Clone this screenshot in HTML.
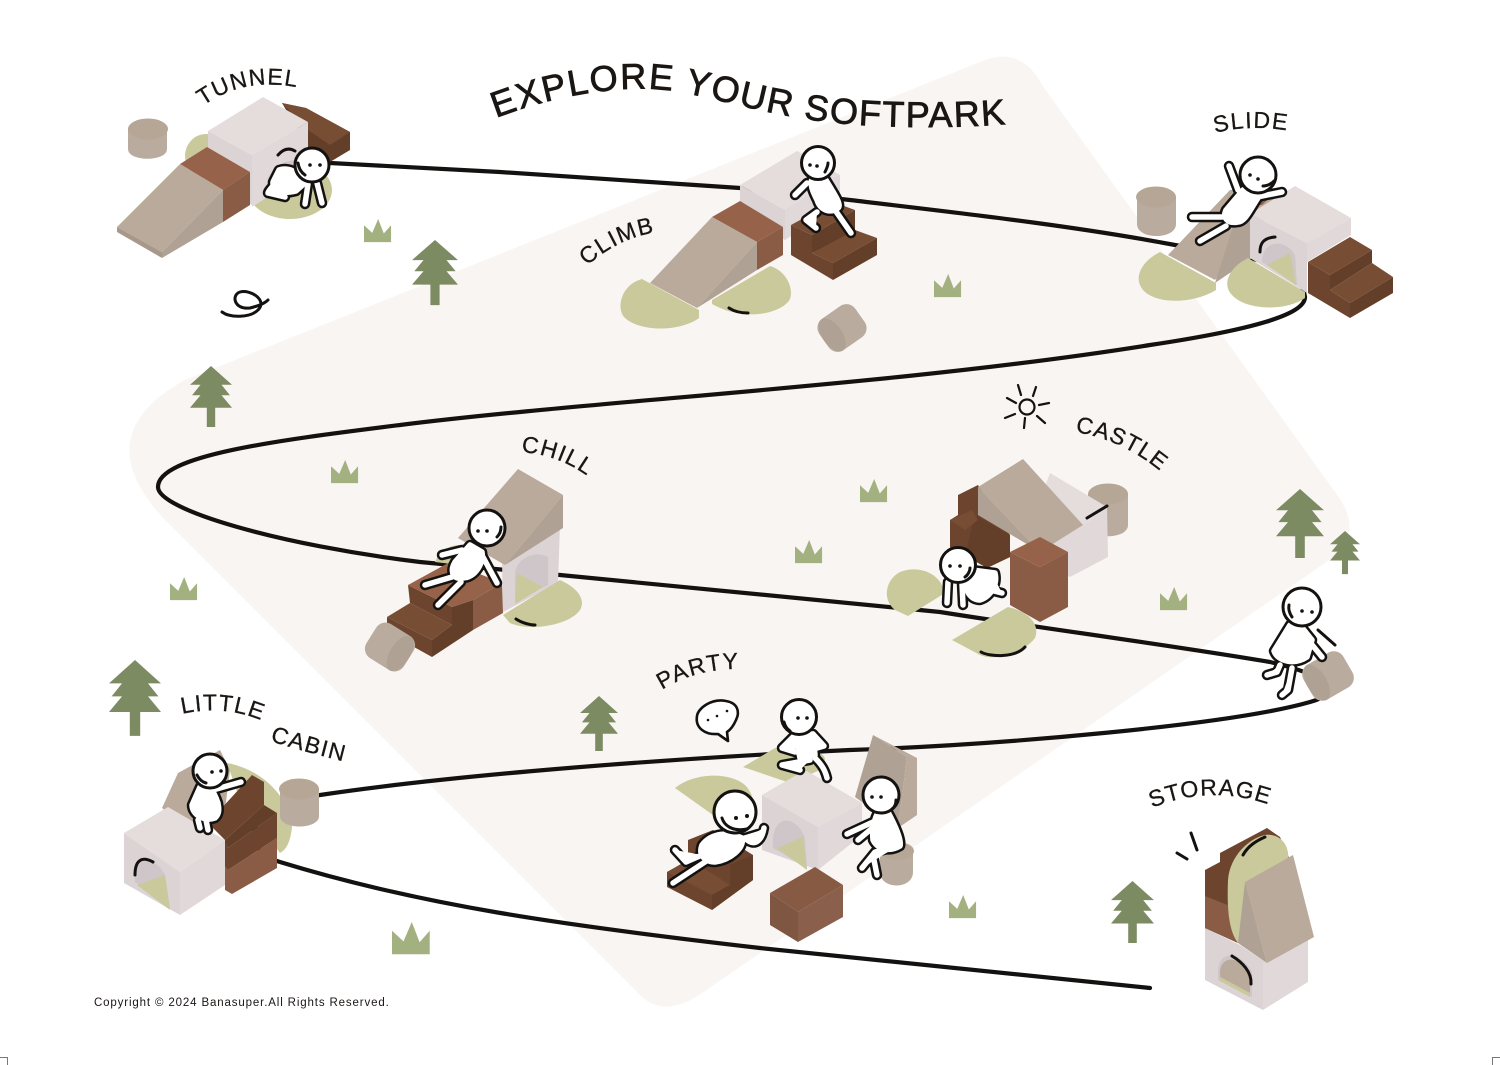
<!DOCTYPE html>
<html lang="en"><head><meta charset="utf-8"><title>Explore Your Softpark</title>
<style>html,body{margin:0;padding:0;background:#fff}svg{display:block}
text{font-family:"Liberation Sans",sans-serif;fill:#1a1614;stroke:#1a1614;stroke-width:.3}
.l{font-size:23px;letter-spacing:1.4px}
.s{fill:none;stroke:#141210;stroke-width:3;stroke-linecap:round;stroke-linejoin:round}
.th{stroke-width:2.2}
.h{fill:#fff;stroke:#141210;stroke-width:3}
.tp{fill:#b9aa9b}.ts{fill:#afa194}.cy{fill:#b9ac9e}.ct{fill:#b5a696}
.wt{fill:#e5dcdc}.wl{fill:#dcd3d5}.wr{fill:#e1d8d9}.ar{fill:#cfc6c9}
.mt{fill:#96634a}.mr{fill:#8a5c46}
.dt{fill:#774d34}.dl{fill:#6d452e}.dr{fill:#633e28}
.ol{fill:#c9c99c}
.tree{fill:#7d8b63}.gr{fill:#a3b07f}
</style></head><body>
<svg width="1500" height="1065" viewBox="0 0 1500 1065" xmlns="http://www.w3.org/2000/svg">
<defs>
<polygon id="tree" points="50,0 100,45 75,45 95,70 75,70 100,100 60,100 60,146 40,146 40,100 0,100 25,70 5,70 25,45 0,45"/>
<polygon id="grass" points="0,19 25,42 43,0 60,44 82,19 82,70 0,70"/>
<path id="t0" d="M496,118 C555,95 620,85 665,90 C710,96 750,110 800,118 C850,127 930,130 1008,124"/>
<path id="t1" d="M203,106 Q245,76 300,88"/>
<path id="t2" d="M587,266 Q618,238 658,232"/>
<path id="t3" d="M1215,133 Q1250,124 1290,131"/>
<path id="t4" d="M521,452 Q560,455 590,478"/>
<path id="t5" d="M1075,432 Q1125,440 1166,476"/>
<path id="t6" d="M662,690 Q697,668 742,669"/>
<path id="t7" d="M182,714 Q225,704 265,722"/>
<path id="t8" d="M270,741 Q305,752 350,763"/>
<path id="t9" d="M1152,808 Q1210,784 1270,805"/>

<g id="f1"><path d="M279,170 C290,166 302,175 306,182 L296,191 C285,194 272,192 273,182Z"/><path d="M275,184 C269,190 268,192 268,193 L285,197"/><path d="M308,184 L305,204"/><path d="M317,183 L322,203"/></g>
<g id="f2"><path d="M812,178 L826,180 C835,195 842,205 838,208 C830,214 820,210 817,200 C812,190 810,185 812,178Z"/><path d="M807,183 L795,195"/><path d="M817,212 L806,220 L816,228"/><path d="M835,210 L851,233"/></g>
<g id="f3"><path d="M1243,190 L1258,198 C1250,210 1245,222 1238,222 C1228,224 1222,218 1226,210Z"/><path d="M1238,190 L1229,166"/><path d="M1252,198 L1282,192"/><path d="M1222,217 L1192,217"/><path d="M1226,226 L1200,241"/></g>
<g id="f4"><path d="M470,545 L482,552 C484,562 476,578 462,578 C452,580 450,570 455,562Z"/><path d="M462,550 L442,555"/><path d="M483,557 L497,583"/><path d="M452,577 L425,585"/><path d="M461,582 L438,605"/></g>
<g id="f5"><path d="M972,570 L995,573 C998,585 990,597 980,600 C970,600 965,590 965,580Z"/><path d="M948,582 L947,603"/><path d="M962,584 L963,605"/><path d="M994,578 L990,590 L1002,593"/></g>
<g id="f6"><path d="M200,787 L212,790 C218,800 222,812 215,818 C205,822 192,815 192,805Z"/><path d="M213,790 L241,782"/><path d="M205,797 L218,803"/><path d="M198,820 L200,828"/><path d="M206,820 L208,830"/></g>
<g id="f7"><path d="M795,735 L813,734 L815,755 L800,758Z"/><path d="M795,735 L782,748 L795,752"/><path d="M813,734 L824,746 L810,750"/><path d="M810,760 L782,765 L800,770"/><path d="M815,758 C822,765 825,770 827,778"/></g>
<g id="f8"><path d="M702,845 C712,832 730,832 742,838 C745,848 730,860 715,862 C705,862 698,855 702,845Z"/><path d="M745,838 C755,848 762,840 764,828"/><path d="M745,838 L758,834"/><path d="M702,855 L686,862 L675,850"/><path d="M708,860 L673,883"/></g>
<g id="f9"><path d="M878,812 L888,812 C895,825 902,840 900,846 C890,852 878,850 873,840 C872,830 874,820 878,812Z"/><path d="M873,822 L847,834"/><path d="M876,825 L858,840"/><path d="M896,847 L875,852 L862,868"/><path d="M873,855 L877,875"/></g>
<g id="f10"><path d="M1290,625 L1274,651 C1278,662 1295,665 1307,657 L1312,640 L1300,625Z"/><path d="M1304,635 L1322,657"/><path d="M1280,665 L1277,672 L1267,675"/><path d="M1292,668 L1288,690 L1282,695"/></g>
</defs>

<rect width="1500" height="1065" fill="#fff"/>
<path fill="#f9f5f2" d="M185,380 L985,60 Q1022,47 1042,85 L1338,496 Q1366,536 1325,563 L705,991 Q665,1020 640,995 L165,520 Q85,435 185,380Z"/>

<!-- road -->
<path fill="none" stroke="#141210" stroke-width="4.2" stroke-linecap="round" d="M330,163 L500,172 L740,188 L850,200 C950,212 1070,225 1175,245 C1240,255 1300,262 1305,297 C1305,315 1250,330 1150,345 C900,385 600,400 400,425 C280,440 158,455 158,487 C158,510 280,545 420,562 L560,575 L940,612 C1040,628 1170,645 1270,662 C1345,680 1335,695 1310,702 C1230,725 1000,745 850,750 C600,762 420,780 320,795 C240,805 240,850 280,862 C420,905 560,925 760,948 L1150,988"/>

<!-- trees & grass -->
<g class="tree">
<use href="#tree" transform="translate(412,240) scale(.46,.446)"/>
<use href="#tree" transform="translate(190,366) scale(.42,.418)"/>
<use href="#tree" transform="translate(1276,489) scale(.48,.473)"/>
<use href="#tree" transform="translate(1330,531) scale(.30,.295)"/>
<use href="#tree" transform="translate(109,660) scale(.52,.52)"/>
<use href="#tree" transform="translate(580,696) scale(.38,.377)"/>
<use href="#tree" transform="translate(1111,881) scale(.43,.425)"/>
</g>
<g class="gr">
<use href="#grass" transform="translate(364,219) scale(.33)"/>
<use href="#grass" transform="translate(934,274) scale(.33)"/>
<use href="#grass" transform="translate(331,460) scale(.33)"/>
<use href="#grass" transform="translate(860,479) scale(.33)"/>
<use href="#grass" transform="translate(795,540) scale(.33)"/>
<use href="#grass" transform="translate(170,577) scale(.33)"/>
<use href="#grass" transform="translate(1160,587) scale(.33)"/>
<use href="#grass" transform="translate(949,895) scale(.33)"/>
<use href="#grass" transform="translate(392,922) scale(.46)"/>
</g>

<!-- TUNNEL -->
<path class="cy" d="M128,128 V149 C128,162 167,162 167,149 V128Z"/><ellipse cx="148" cy="129" rx="20" ry="10.5" class="ct"/>
<ellipse cx="206" cy="156" rx="21" ry="22" class="ol"/>
<ellipse cx="290" cy="190" rx="42" ry="29" class="ol"/>
<polygon class="dr" points="282,103 306,108 350,132 350,150 330,162 308,147"/>
<polygon class="dt" points="282,103 306,108 350,132 330,145 308,130"/>
<polygon class="wl" points="208,131 252,155 252,205 208,180"/>
<polygon class="wr" points="308,122 252,155 252,207 266,198 268,180 280,165 298,160 308,150"/>
<polygon class="wt" points="263,97 308,122 252,155 208,131"/>
<path class="ar" d="M268,178 C275,165 285,160 298,160 L290,172 L270,184Z"/>
<polygon class="mt" points="207,147 250,172 223,190 180,164"/>
<polygon class="mr" points="250,172 223,190 223,222 250,205"/>
<polygon class="tp" points="180,164 223,190 162,252 117,227"/>
<polygon class="ts" points="223,190 223,222 162,258 162,252"/>
<polygon fill="#a6988a" points="117,227 162,252 162,258 117,232"/>

<!-- CLIMB -->
<polygon class="wr" points="797,151 840,175 840,205 785,240 785,210"/>
<polygon class="wl" points="740,185 785,210 785,240 740,210"/>
<polygon class="wt" points="797,151 840,175 785,210 740,185"/>
<polygon class="dl" points="791,225 812,235 812,253 833,263 833,280 791,255"/>
<polygon class="dt" points="791,225 833,202 855,210 812,235"/>
<polygon class="dr" points="812,235 855,210 855,232 812,253"/>
<polygon class="dt" points="812,253 855,230 877,238 833,263"/>
<polygon class="dr" points="833,263 877,238 877,255 833,280"/>
<polygon class="mt" points="740,201 783,227 757,242 712,217"/>
<polygon class="mr" points="783,227 757,242 757,270 783,255"/>
<polygon class="tp" points="712,217 757,242 697,308 650,283"/>
<polygon class="ts" points="757,242 757,270 697,308"/>
<path class="ol" d="M642,279 C620,285 616,310 625,318 C640,332 680,332 699,318 L699,310Z"/>
<path class="ol" d="M712,300 L770,266 C790,272 795,295 788,302 C775,316 740,320 712,304Z"/>
<path class="s" d="M729,308 C735,312 742,313 748,313"/>
<g transform="translate(842,328) rotate(-35)"><rect x="-22" y="-19" width="44" height="38" rx="11" class="cy"/><ellipse cx="-12" cy="0" rx="10" ry="19" class="ts"/></g>

<!-- SLIDE -->
<path class="cy" d="M1137,197 V224 C1137,240 1176,240 1176,224 V197Z"/><ellipse cx="1156" cy="197" rx="20" ry="10.5" class="ct"/>
<polygon class="tp" points="1230,190 1280,188 1265,220 1215,280 1168,255"/>
<polygon class="ts" points="1215,283 1252,258 1252,212 1240,205"/>
<polygon class="mt" points="1255,190 1280,188 1262,205 1245,205"/>
<path class="ol" d="M1160,252 C1140,262 1132,280 1145,292 C1160,305 1195,303 1216,290 L1216,283Z"/>
<polygon class="wr" points="1351,218 1351,235 1307,262 1307,243"/>
<polygon class="wl" points="1250,214 1307,243 1307,293 1250,258"/>
<polygon class="wt" points="1295,186 1351,218 1307,243 1250,214"/>
<path class="ar" d="M1262,262 C1262,240 1285,238 1295,255 L1297,285Z"/>
<polygon class="ol" points="1267,265 1290,253 1296,285"/>
<path class="ol" d="M1248,258 C1228,268 1222,285 1232,295 C1245,310 1285,312 1305,298 L1305,292Z"/>
<path class="s" d="M1260,252 C1260,245 1262,238 1275,237"/>
<polygon class="dl" points="1308,262 1330,275 1330,290 1350,303 1350,318 1308,293"/>
<polygon class="dt" points="1308,262 1350,237 1372,250 1330,275"/>
<polygon class="dr" points="1330,275 1372,250 1372,263 1330,290"/>
<polygon class="dt" points="1330,290 1372,263 1393,277 1350,303"/>
<polygon class="dr" points="1350,303 1393,277 1393,293 1350,318"/>

<!-- CHILL -->
<path class="ol" d="M435,562 C440,550 450,545 460,545 L460,565Z"/>
<polygon class="wl" points="502,560 560,525 558,583 503,612"/>
<path class="ar" d="M515,600 V575 C515,558 535,550 548,557 V585Z"/>
<polygon class="ol" points="517,573 543,587 515,604"/>
<polygon class="tp" points="518,469 563,495 505,565 458,538"/>
<polygon class="ts" points="563,495 563,528 505,565"/>
<polygon class="dr" points="432,640 452,625 452,607 473,600 473,630 432,657"/>
<polygon class="dl" points="387,617 432,640 432,657 387,632"/>
<polygon class="dt" points="387,617 410,603 452,625 432,640"/>
<polygon class="dl" points="408,585 452,607 452,625 410,603"/>
<polygon class="mt" points="408,585 450,562 502,583 473,600 452,607"/>
<polygon class="mr" points="473,600 502,583 503,613 473,630"/>
<path class="ol" d="M503,615 L560,580 C578,588 586,600 580,610 C570,625 530,632 510,623Z"/>
<path class="s" d="M516,619 C522,623 530,625 535,625"/>
<g transform="translate(390,647) rotate(32)"><rect x="-22" y="-20" width="44" height="40" rx="11" class="cy"/><ellipse cx="12" cy="0" rx="10" ry="20" class="ts"/></g>

<!-- CASTLE -->
<path class="cy" d="M1088,493 V525 C1088,540 1128,540 1128,525 V493Z"/><ellipse cx="1108" cy="494" rx="20" ry="10.5" class="ct"/>
<polygon class="wr" points="1107,507 1108,557 1070,577 1040,560 1080,510"/>
<polygon class="wt" points="1050,473 1107,507 1085,525 1040,500"/>
<path class="s" d="M1087,518 L1107,506"/>
<polygon class="dl" points="958,495 978,485 1010,535 1010,557 987,568 950,547 950,520 958,515"/>
<polygon class="dr" points="975,515 1010,535 1010,557 987,568 965,555"/>
<polygon class="dt" points="950,520 972,510 978,520 965,530"/>
<polygon class="tp" points="1023,459 1083,525 1040,552 978,487"/>
<polygon class="ts" points="978,487 1040,552 978,515"/>
<polygon class="mt" points="1010,552 1040,537 1068,552 1040,567"/>
<polygon class="mr" points="1010,552 1040,567 1040,622 1010,605"/>
<polygon class="mr" points="1068,552 1040,567 1040,622 1068,607"/>
<path class="ol" d="M908,616 L945,593 C940,572 918,565 900,572 C885,580 882,600 895,610Z"/>
<path class="ol" d="M952,640 L1008,607 C1030,612 1040,625 1035,638 C1025,652 995,662 980,655Z"/>
<path class="s" d="M981,652 C990,657 1015,658 1025,647"/>

<!-- LITTLE CABIN -->
<path class="ol" d="M227,763 C265,770 290,800 292,827 C290,845 285,850 280,853 L240,800Z"/>
<polygon class="tp" points="162,808 178,773 220,750 230,770 225,810 190,830"/>
<path class="cy" d="M280,788 V816 C280,830 319,830 319,816 V788Z"/><ellipse cx="299" cy="789" rx="20" ry="10.5" class="ct"/>
<polygon class="dl" points="208,823 252,775 264,782 264,805 225,840"/>
<polygon class="dr" points="225,840 264,805 277,813 228,848"/>
<polygon class="dl" points="225,838 228,848 277,813 277,838 228,870 225,868"/>
<polygon class="mr" points="225,866 228,870 277,838 277,868 232,894 225,890"/>
<polygon class="wr" points="225,840 225,885 180,915 180,872"/>
<polygon class="wl" points="124,833 180,872 180,915 124,883"/>
<polygon class="wt" points="168,807 225,840 180,872 124,833"/>
<path class="ar" d="M135,882 C133,855 155,855 165,875 L170,908Z"/>
<polygon class="ol" points="137,885 165,875 170,910"/>
<path class="s" d="M135,875 C135,860 142,856 153,862"/>

<!-- PARTY -->
<polygon class="ts" points="873,735 907,757 898,828 855,797"/>
<polygon class="tp" points="873,735 917,758 917,815 898,828 907,757"/>
<path class="cy" d="M880,850 V872 C880,890 913,890 913,872 V850Z"/><ellipse cx="897" cy="851" rx="17" ry="9" class="ct"/>
<path class="ol" d="M743,767 L775,748 C800,745 825,750 825,760 L820,770 L790,783Z"/>
<path class="ol" d="M675,788 C695,772 730,772 745,785 C752,792 753,800 753,802 L720,820Z"/>
<polygon class="wr" points="862,803 862,835 818,870 818,827"/>
<polygon class="wl" points="762,795 818,827 818,870 762,850"/>
<polygon class="wt" points="805,770 862,803 818,827 762,795"/>
<path class="ar" d="M773,848 C770,815 795,812 805,838 L807,868Z"/>
<polygon class="ol" points="777,848 803,837 807,870"/>
<polygon class="dl" points="667,872 688,860 688,840 713,830 753,855 753,880 712,910 667,887"/>
<polygon class="dt" points="667,872 690,860 730,885 712,895"/>
<polygon class="dr" points="712,895 730,885 730,865 753,855 753,880 712,910"/>
<polygon fill="#875a44" points="815,867 843,885 798,912 770,893"/>
<polygon fill="#7e5642" points="770,893 798,912 798,942 770,925"/>
<polygon fill="#8a604c" points="843,885 843,917 798,942 798,912"/>

<!-- ROCK -->
<g transform="translate(1328,676) rotate(-30)"><rect x="-23" y="-20" width="46" height="40" rx="11" class="cy"/><ellipse cx="-13" cy="0" rx="10" ry="20" class="ts"/></g>

<!-- STORAGE -->
<polygon class="wl" points="1205,928 1240,945 1267,963 1263,1010 1205,980"/>
<polygon class="wr" points="1263,963 1308,938 1308,982 1263,1010"/>
<path class="ar" d="M1218,972 C1218,950 1240,950 1252,972 L1252,997 L1218,980Z"/>
<path class="tp" d="M1220,972 C1221,955 1240,955 1250,975 L1250,993 L1220,977Z"/>
<polygon class="ol" points="1220,977 1250,993 1250,997 1220,981"/>
<path class="s" d="M1232,956 C1242,962 1252,972 1251,984"/>
<polygon class="dl" points="1205,870 1220,862 1220,853 1267,828 1280,837 1290,860 1238,943 1205,928"/>
<polygon class="mr" points="1205,896 1230,906 1238,943 1205,928"/>
<path class="ol" d="M1238,943 C1228,930 1227,905 1228,880 C1230,855 1250,838 1265,835 C1280,833 1290,845 1288,860 L1285,900Z"/>
<polygon class="ts" points="1245,882 1238,943 1267,963"/>
<polygon class="tp" points="1245,882 1293,855 1314,937 1267,963"/>
<path class="s" d="M1243,855 C1248,846 1256,841 1265,837"/>
<path class="s" d="M1177,853 L1187,859 M1191,833 L1197,850"/>

<!-- figures -->
<g fill="#fff" stroke-linecap="round" stroke-linejoin="round">
<g stroke="#141210" stroke-width="10.5">
<use href="#f1"/><use href="#f2"/><use href="#f3"/><use href="#f4"/><use href="#f5"/><use href="#f6"/><use href="#f7"/><use href="#f8"/><use href="#f9"/><use href="#f10"/>
</g>
<g stroke="#fff" stroke-width="5.5">
<use href="#f1"/><use href="#f2"/><use href="#f3"/><use href="#f4"/><use href="#f5"/><use href="#f6"/><use href="#f7"/><use href="#f8"/><use href="#f9"/><use href="#f10"/>
</g>
</g>
<g class="h">
<circle cx="312" cy="165" r="17"/><circle cx="818" cy="163" r="16.5"/><circle cx="1258" cy="175" r="18"/><circle cx="487" cy="528" r="18"/><circle cx="958" cy="565" r="17.5"/><circle cx="210" cy="771" r="17"/><circle cx="799" cy="717" r="17.5"/><circle cx="735" cy="812" r="21"/><circle cx="881" cy="795" r="18"/><circle cx="1302" cy="607" r="19"/>
</g>
<g fill="#141210">
<circle cx="310" cy="165" r="1.8"/><circle cx="320" cy="165" r="1.8"/>
<circle cx="810" cy="165" r="1.8"/><circle cx="817" cy="166" r="1.8"/>
<circle cx="1250" cy="175" r="1.8"/><circle cx="1258" cy="179" r="1.8"/>
<circle cx="478" cy="531" r="1.8"/><circle cx="487" cy="531" r="1.8"/>
<circle cx="950" cy="566" r="1.8"/><circle cx="960" cy="566" r="1.8"/>
<circle cx="212" cy="772" r="1.8"/><circle cx="221" cy="771" r="1.8"/>
<circle cx="798" cy="718" r="1.8"/><circle cx="807" cy="718" r="1.8"/>
<circle cx="736" cy="818" r="2"/><circle cx="747" cy="816" r="2"/>
<circle cx="872" cy="797" r="1.8"/><circle cx="881" cy="797" r="1.8"/>
<circle cx="1302" cy="611" r="1.8"/><circle cx="1312" cy="612" r="1.8"/>
</g>
<path class="s" d="M278,155 C284,148 290,148 295,151"/>
<path class="s" d="M298,163 C299,170 302,173 305,175"/>
<path class="s" d="M825,172 C826,170 828,166 828,163"/>
<path class="s" d="M1263,186 C1268,186 1272,183 1274,181"/>
<path class="s" d="M497,537 C500,534 501,530 501,527"/>
<path class="s" d="M970,568 C970,571 968,575 965,577"/>
<path class="s" d="M197,775 C199,779 202,782 206,783"/>
<path class="s" d="M784,722 C785,726 787,729 790,731"/>
<path class="s" d="M722,818 C724,825 732,832 747,829"/>
<path class="s" d="M896,800 C896,804 895,807 892,809"/>
<path class="s" d="M1289,605 C1288,610 1290,614 1292,617"/>
<path class="s" d="M1318,630 L1335,645"/>

<!-- decorations -->
<path class="s" d="M222,312 C230,318 250,318 258,310 C268,300 250,289 240,292 C231,295 234,310 250,308 C258,306 264,304 268,300"/>
<g class="s th"><circle cx="1027" cy="407" r="7.5"/>
<path d="M1018,385 L1021,395 M1036,387 L1033,396 M1049,403 L1039,405 M1045,423 L1037,416 M1024,428 L1025,418 M1005,418 L1015,414 M1007,398 L1016,403"/></g>
<path class="s" style="fill:#fff;stroke-width:2.6" d="M697,716 C698,708 712,698 726,701 C738,703 740,712 736,720 C733,727 730,730 727,732 L728,741 L718,734 C705,735 695,728 697,716Z"/>
<g fill="#141210"><circle cx="708" cy="720" r="1.3"/><circle cx="717" cy="716" r="1.3"/><circle cx="727" cy="711" r="1.3"/></g>

<!-- text -->
<text font-size="36" letter-spacing="1.6" style="stroke-width:.8"><textPath href="#t0">EXPLORE YOUR SOFTPARK</textPath></text>
<text class="l" style="letter-spacing:1.2px"><textPath href="#t1">TUNNEL</textPath></text>
<text class="l"><textPath href="#t2">CLIMB</textPath></text>
<text class="l"><textPath href="#t3">SLIDE</textPath></text>
<text class="l"><textPath href="#t4">CHILL</textPath></text>
<text class="l" style="letter-spacing:1px"><textPath href="#t5">CASTLE</textPath></text>
<text class="l"><textPath href="#t6">PARTY</textPath></text>
<text class="l" style="letter-spacing:1px"><textPath href="#t7">LITTLE</textPath></text>
<text class="l"><textPath href="#t8">CABIN</textPath></text>
<text class="l" style="letter-spacing:1.1px"><textPath href="#t9">STORAGE</textPath></text>
<text x="94" y="1006" font-size="11.5" letter-spacing=".86" style="stroke-width:0">Copyright © 2024 Banasuper.All Rights Reserved.</text>
<path d="M0,1057.5 H7.5 V1065 M1500,1057.5 H1492.5 V1065" fill="none" stroke="#777" stroke-width="1"/>
</svg>
</body></html>
